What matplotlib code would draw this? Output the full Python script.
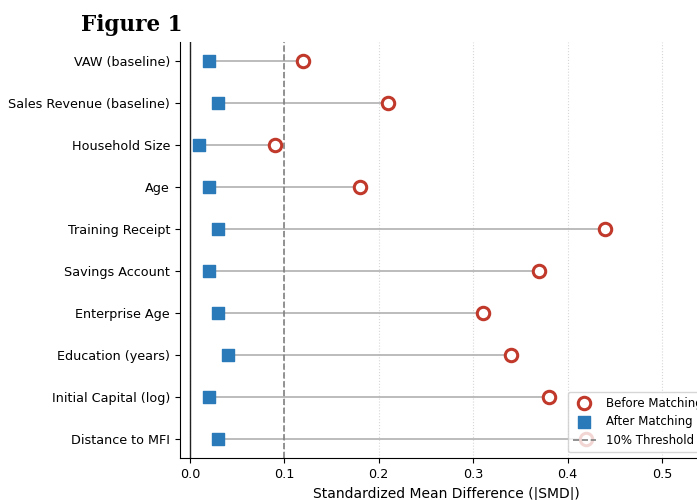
import numpy as np
import matplotlib.pyplot as plt

# covariates, top to bottom
covariates = ['VAW (baseline)', 'Sales Revenue (baseline)', 'Household Size', 'Age',
              'Training Receipt', 'Savings Account', 'Enterprise Age',
              'Education (years)', 'Initial Capital (log)', 'Distance to MFI']
smd_before = [0.12, 0.21, 0.09, 0.18, 0.44, 0.37, 0.31, 0.34, 0.38, 0.42]
smd_after = [0.02, 0.03, 0.01, 0.02, 0.03, 0.02, 0.03, 0.04, 0.02, 0.03]
threshold = 0.1

fig = plt.figure(figsize=(6.97, 5.0), dpi=100)
ax = fig.add_axes([0.258, 0.084, 0.765, 0.832])

y = np.arange(len(covariates))[::-1]

# connecting lines
ax.hlines(y, smd_after, smd_before, color='#bcbcbc', lw=1.4, zorder=1)

ax.scatter(smd_before, y, s=80, facecolor='white', edgecolor='#c0392b',
           linewidth=2.2, zorder=3, label='Before Matching')
ax.scatter(smd_after, y, s=75, marker='s', color='#2a7ab9', zorder=3,
           label='After Matching')

ax.axvline(threshold, color='gray', ls='--', lw=1.2, label='10% Threshold')
ax.axvline(0, color='#222222', lw=1.0)

ax.set_yticks(y)
ax.set_yticklabels(covariates, fontsize=9.2)
ax.set_xlim(-0.0106, 0.554)
ax.set_ylim(-0.45, 9.45)
ax.set_xticks([0.0, 0.1, 0.2, 0.3, 0.4, 0.5])
ax.tick_params(axis='x', labelsize=9.2)
ax.set_xlabel('Standardized Mean Difference (|SMD|)', fontsize=10)
ax.grid(axis='x', ls=':', alpha=0.5)
ax.spines['top'].set_visible(False)
ax.spines['right'].set_visible(False)
ax.legend(loc='lower right', fontsize=8.5)

fig.text(0.116, 0.937, 'Figure 1', fontsize=15.5, fontweight='bold', family='DejaVu Serif')

fig.savefig('out.png', dpi=100)
